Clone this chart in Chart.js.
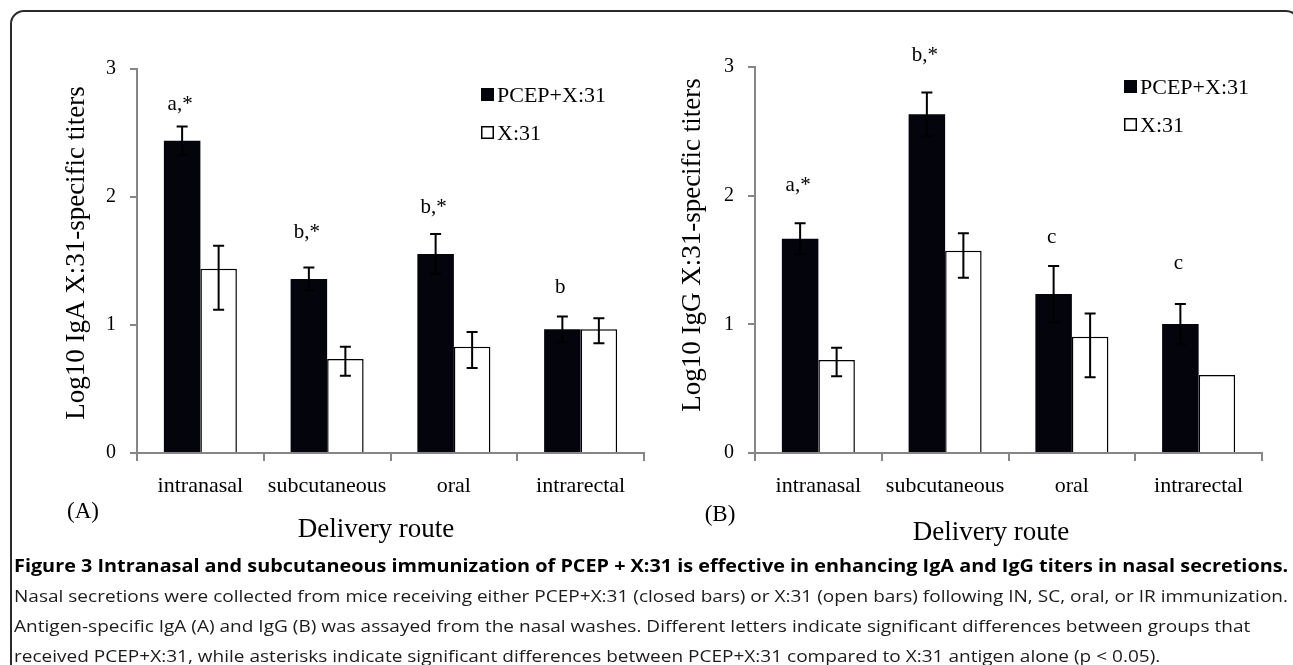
<!DOCTYPE html>
<html>
<head>
<meta charset="utf-8">
<script src="https://cdn.jsdelivr.net/npm/chart.js@4.4.1/dist/chart.umd.min.js"></script>
<style>
  html, body { margin: 0; padding: 0; background: #fff; }
  body { width: 1293px; height: 665px; position: relative; overflow: hidden; }
  .frame { position: absolute; left: 10px; top: 10px; width: 1290px; height: 700px;
           border: 2px solid #2a2a2a; border-radius: 14px; box-sizing: border-box; }
  #wrapA { position: absolute; left: 0; top: 0; }
  #wrapB { position: absolute; left: 646px; top: 0; }
  .caption { position: absolute; left: 14px; top: 551px; font-family: "Open Sans"; font-size: 17px;
             line-height: 30px; color: #1b1b1b; }
  .caption div { white-space: nowrap; width: max-content; transform-origin: 0 0; }
  .caption .head { font-weight: bold; color: #000; }
</style>
</head>
<body>
<div class="frame"></div>
<div id="wrapA"><canvas id="chartA" width="646" height="560"></canvas></div>
<div id="wrapB"><canvas id="chartB" width="647" height="560"></canvas></div>
<div class="caption" id="caption">
  <div class="head">Figure 3 Intranasal and subcutaneous immunization of PCEP + X:31 is effective in enhancing IgA and IgG titers in nasal secretions.</div>
  <div>Nasal secretions were collected from mice receiving either PCEP+X:31 (closed bars) or X:31 (open bars) following IN, SC, oral, or IR immunization.</div>
  <div>Antigen-specific IgA (A) and IgG (B) was assayed from the nasal washes. Different letters indicate significant differences between groups that</div>
  <div>received PCEP+X:31, while asterisks indicate significant differences between PCEP+X:31 compared to X:31 antigen alone (p &lt; 0.05).</div>
</div>
<script>
// Data
const routes = ["intranasal", "subcutaneous", "oral", "intrarectal"];
const seriesNames = ["PCEP+X:31", "X:31"];
const yTicks = [0, 1, 2, 3];

// (A) IgA
const igaPcep = [2.44, 1.36, 1.555, 0.966];
const igaPcepErr = [0.11, 0.09, 0.155, 0.10];
const igaX31 = [1.44, 0.734, 0.83, 0.966];
const igaX31ErrUp = [0.18, 0.097, 0.115, 0.086];
const igaX31ErrDown = [0.32, 0.13, 0.166, 0.109];
const igaLetters = ["a,*", "b,*", "b,*", "b"];

// (B) IgG
const iggPcep = [1.665, 2.632, 1.235, 1.002];
const iggPcepErr = [0.12, 0.17, 0.218, 0.156];
const iggX31 = [0.723, 1.572, 0.904, 0.606];
const iggX31ErrUp = [0.095, 0.135, 0.18, null];
const iggX31ErrDown = [0.127, 0.21, 0.316, null];
const iggLetters = ["a,*", "b,*", "c", "c"];

const serif = "'Liberation Serif', 'Times New Roman', serif";
const axisGray = "#868686";
const barBlack = "#03040c";

// error bars, letters, legend and the free text of each panel
const extras = {
  id: "extras",
  afterDatasetsDraw(chart, args, opts) {
    const ctx = chart.ctx;
    const y = chart.scales.y;
    const area = chart.chartArea;
    const tops = [];

    chart.data.datasets.forEach((ds, i) => {
      const meta = chart.getDatasetMeta(i);
      meta.data.forEach((bar, j) => {
        const up = ds.errUp[j], down = ds.errDown[j];
        if (up == null) return;
        const v = ds.data[j];
        const yt = y.getPixelForValue(v + up);
        const yb = y.getPixelForValue(v - down);
        if (i === 0) tops[j] = { x: bar.x, y: yt };
        ctx.save();
        ctx.strokeStyle = "#000";
        ctx.lineWidth = 2;
        ctx.beginPath();
        ctx.moveTo(bar.x, yt); ctx.lineTo(bar.x, yb);
        ctx.moveTo(bar.x - 5.5, yt); ctx.lineTo(bar.x + 5.5, yt);
        ctx.moveTo(bar.x - 5.5, yb); ctx.lineTo(bar.x + 5.5, yb);
        ctx.stroke();
        ctx.restore();
      });
    });

    ctx.save();
    ctx.fillStyle = "#000";
    ctx.textAlign = "center";
    ctx.textBaseline = "middle";

    // significance letters over the closed bars
    ctx.font = "21px " + serif;
    opts.letters.forEach((t, j) => {
      ctx.fillText(t, tops[j].x - 2, tops[j].y - opts.letterGap[j]);
    });

    // legend
    ctx.font = "22px " + serif;
    ctx.textAlign = "left";
    chart.data.datasets.forEach((ds, i) => {
      const sx = area.left + opts.legendX;
      const sy = opts.legendY + i * 38;
      ctx.fillStyle = ds.backgroundColor;
      ctx.fillRect(sx, sy - 7, 13, 13);
      if (ds.borderWidth) {
        ctx.strokeStyle = "#000";
        ctx.lineWidth = 1.5;
        ctx.strokeRect(sx + 0.75, sy - 6.25, 11.5, 11.5);
      }
      ctx.fillStyle = "#000";
      ctx.fillText(ds.label, sx + 16, sy + 1);
    });

    // axis titles and panel tag
    ctx.textAlign = "center";
    ctx.font = "27px " + serif;
    ctx.fillText("Delivery route", opts.xTitle[0], opts.xTitle[1]);
    ctx.font = "23px " + serif;
    ctx.fillText(opts.tag, opts.tagPos[0], opts.tagPos[1]);
    ctx.translate(opts.yTitle[0], opts.yTitle[1]);
    ctx.rotate(-Math.PI / 2);
    ctx.font = "27px " + serif;
    ctx.fillText(opts.yLabel, 0, 0);
    ctx.restore();
  }
};

function makeChart(id, pcep, pcepErr, x31, x31Up, x31Down, layout) {
  return new Chart(document.getElementById(id), {
    type: "bar",
    data: {
      labels: routes,
      datasets: [
        {
          label: seriesNames[0],
          data: pcep,
          errUp: pcepErr,
          errDown: pcepErr,
          backgroundColor: barBlack,
          borderWidth: 0
        },
        {
          label: seriesNames[1],
          data: x31,
          errUp: x31Up,
          errDown: x31Down,
          backgroundColor: "#ffffff",
          borderColor: "#000000",
          borderWidth: 1.5
        }
      ]
    },
    options: {
      responsive: false,
      animation: false,
      devicePixelRatio: 1,
      categoryPercentage: 0.576,
      barPercentage: 1,
      layout: { padding: { left: 0, top: layout.top, right: layout.right, bottom: 0 } },
      plugins: {
        legend: { display: false },
        tooltip: { enabled: false },
        extras: layout.extras
      },
      scales: {
        x: {
          grid: { drawOnChartArea: false, offset: true, tickLength: 8, color: axisGray, lineWidth: 2 },
          border: { color: axisGray, width: 2 },
          ticks: { color: "#000", padding: 12, font: { family: serif, size: 22 } },
          afterFit: s => { s.height = 107; }
        },
        y: {
          min: yTicks[0],
          max: yTicks[yTicks.length - 1],
          grid: { drawOnChartArea: false, tickLength: 7, color: axisGray, lineWidth: 2 },
          border: { color: axisGray, width: 2 },
          ticks: { stepSize: 1, color: "#000", padding: 14, font: { family: serif, size: 20 } },
          afterFit: s => { s.width = layout.yWidth; }
        }
      }
    },
    plugins: [extras]
  });
}

makeChart("chartA", igaPcep, igaPcepErr, igaX31, igaX31ErrUp, igaX31ErrDown, {
  top: 69, right: 2, yWidth: 137,
  extras: {
    letters: igaLetters, letterGap: [22, 35, 27, 29],
    legendX: 344, legendY: 95,
    yLabel: "Log10 IgA X:31-specific titers", yTitle: [77, 253],
    xTitle: [376, 530], tag: "(A)", tagPos: [83, 512]
  }
});

makeChart("chartB", iggPcep, iggPcepErr, iggX31, iggX31ErrUp, iggX31ErrDown, {
  top: 67, right: 31, yWidth: 109,
  extras: {
    letters: iggLetters, letterGap: [38, 37, 29, 41],
    legendX: 369, legendY: 87,
    yLabel: "Log10 IgG X:31-specific titers", yTitle: [47, 245],
    xTitle: [345, 533], tag: "(B)", tagPos: [74, 515]
  }
});

// stretch the two full caption lines to the frame width
function fitCaption() {
  const lines = document.querySelectorAll("#caption div");
  const target = 1274;
  const k = target / lines[1].scrollWidth;
  lines.forEach((el, i) => {
    const f = i === 0 ? target / el.scrollWidth : k;
    el.style.transform = "scaleX(" + f + ")";
  });
}
fitCaption();
document.fonts.ready.then(fitCaption);
</script>
</body>
</html>
